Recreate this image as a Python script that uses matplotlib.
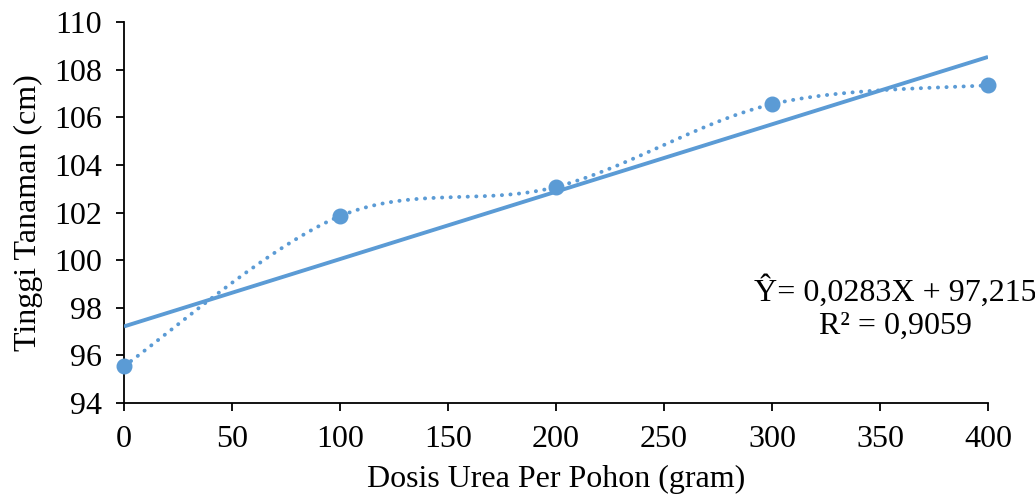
import matplotlib
matplotlib.use("Agg")
import matplotlib.pyplot as plt
import numpy as np

plt.rcParams["font.family"] = ["Liberation Serif", "DejaVu Serif"]

BLUE = "#5B9BD5"

dosis = [0, 100, 200, 300, 400]
tinggi = [95.55, 101.85, 103.075, 106.55, 107.35]
slope, intercept = 0.0283, 97.215
x_ticks = [0, 50, 100, 150, 200, 250, 300, 350, 400]
y_ticks = [94, 96, 98, 100, 102, 104, 106, 108, 110]


def smooth_curve(xs, ys, n=60):
  # bezier through the points, control points from neighbouring slopes
  p = np.column_stack([xs, ys]).astype(float)
  out = []
  for i in range(len(p) - 1):
    p0 = p[i - 1] if i > 0 else p[i]
    p3 = p[i + 2] if i + 2 < len(p) else p[i + 1]
    c1 = p[i] + (p[i + 1] - p0) / 6
    c2 = p[i + 1] - (p3 - p[i]) / 6
    t = np.linspace(0, 1, n)[:, None]
    seg = ((1 - t) ** 3) * p[i] + 3 * ((1 - t) ** 2) * t * c1 \
        + 3 * (1 - t) * t ** 2 * c2 + t ** 3 * p[i + 1]
    out.append(seg if i == 0 else seg[1:])
  out = np.vstack(out)
  return out[:, 0], out[:, 1]


fig = plt.figure(figsize=(10.35, 5.01), dpi=100)
ax = fig.add_axes([0.1198, 0.1956, 0.8348, 0.7604])

sx, sy = smooth_curve(dosis, tinggi)
ax.plot(sx, sy, color=BLUE, lw=2.8, ls=(0, (0.05, 2.15)), dash_capstyle="round", zorder=2)

xl = np.array([dosis[0], dosis[-1]])
ax.plot(xl, slope * xl + intercept, color=BLUE, lw=2.8, solid_capstyle="butt", zorder=3)

ax.plot(dosis, tinggi, "o", color=BLUE, ms=10.5, zorder=4, clip_on=False)

ax.set_xlim(0, 400)
ax.set_ylim(94, 110)
ax.set_xticks(x_ticks)
ax.set_yticks(y_ticks)
ax.tick_params(labelsize=23, length=6, width=1.3, direction="out", pad=10)
for s in ["top", "right"]:
  ax.spines[s].set_visible(False)
for s in ["left", "bottom"]:
  ax.spines[s].set_linewidth(1.3)

ax.set_xlabel("Dosis Urea Per Pohon (gram)", fontsize=23, labelpad=8)
ax.set_ylabel("Tinggi Tanaman (cm)", fontsize=23, labelpad=8)

ax.text(357, 98.0, "\u0176= 0,0283X + 97,215\nR\u00b2 = 0,9059",
        fontsize=23, ha="center", va="center", linespacing=1.2)

fig.savefig("out.png", dpi=100)
